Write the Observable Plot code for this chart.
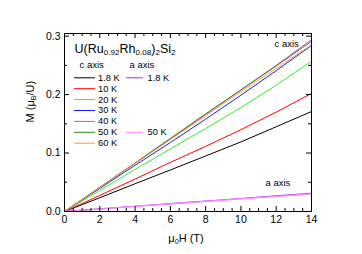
<!DOCTYPE html>
<html><head><meta charset="utf-8">
<script src="https://cdn.jsdelivr.net/npm/d3@7"></script>
<script src="https://cdn.jsdelivr.net/npm/@observablehq/plot@0.6"></script>
<style>html,body{margin:0;padding:0;background:#fff;}#chart{width:362px;height:254px;}</style>
</head><body><div id="chart"></div>
<script>
// ---- data ----
const fieldT = [0, 2, 4, 6, 8, 10, 12, 14];               // μ0H (T)
const cLabels = ["1.8 K", "10 K", "20 K", "30 K", "40 K", "50 K", "60 K"];
const c_1_8K = [0, 0.0235, 0.0475, 0.071, 0.095, 0.119, 0.145, 0.171];
const c_10K  = [0, 0.0275, 0.0555, 0.084, 0.1115, 0.140, 0.170, 0.202];
const c_20K  = [0, 0.036, 0.072, 0.107, 0.142, 0.178, 0.216, 0.257];
const c_30K  = [0, 0.0395, 0.079, 0.118, 0.158, 0.199, 0.241, 0.284];
const c_40K  = [0, 0.041, 0.0825, 0.124, 0.166, 0.208, 0.250, 0.294];
const c_50K  = [0, 0.0415, 0.083, 0.125, 0.167, 0.208, 0.249, 0.291];
const c_60K  = [0, 0.041, 0.082, 0.123, 0.164, 0.205, 0.245, 0.285];
const aLabels = ["1.8 K", "50 K"];
const a_1_8K = [0, 0.0045, 0.009, 0.0134, 0.0178, 0.0222, 0.0266, 0.031];
const a_50K  = [0, 0.0043, 0.0086, 0.0129, 0.0172, 0.0215, 0.0258, 0.030];
const xMajorTicks = [0, 2, 4, 6, 8, 10, 12, 14];
const yMajorTicks = [0, 0.1, 0.2, 0.3];
const yTickLabels = ["0.0", "0.1", "0.2", "0.3"];
const compound = "U(Ru_{0.92}Rh_{0.08})_{2}Si_{2}";

// ---- styles ----
const cColors = ["#000000", "#ff0000", "#33ee33", "#1a1aff", "#e040e0", "#2a8a2a", "#ff9933"];
const aColors = ["#9933ff", "#ff88ff"];
const cSeries = [c_1_8K, c_10K, c_20K, c_30K, c_40K, c_50K, c_60K];
const aSeries = [a_1_8K, a_50K];
const FONT = "'Liberation Sans', Arial, Helvetica, sans-serif";

const W = 362, Hgt = 254;
const mL = 64, mR = 51, mT = 33, mB = 43;
const innerW = W - mL - mR, innerH = Hgt - mT - mB;
const xDom = [0, 14], yDom = [0, 0.3045];
// pixel -> data helpers for annotation placement
const X = p => xDom[0] + (p - mL) / innerW * (xDom[1] - xDom[0]);
const Y = p => yDom[0] + (Hgt - mB - p) / innerH * (yDom[1] - yDom[0]);

const toRows = (vals, name) => vals.map((m, i) => ({H: fieldT[i], M: m, series: name}));

const xMinor = d3.range(0, 14.01, 0.5).filter(v => !xMajorTicks.includes(v));
const yMinor = [0.05, 0.15, 0.25];

const marks = [];
// curves
cSeries.forEach((s, i) => marks.push(Plot.line(toRows(s, "c " + cLabels[i]), {x: "H", y: "M", stroke: cColors[i], strokeWidth: 1})));
aSeries.forEach((s, i) => marks.push(Plot.line(toRows(s, "a " + aLabels[i]), {x: "H", y: "M", stroke: aColors[i], strokeWidth: 1.2})));

// frame + inward ticks on all sides
const maj = 5, mnr = 3;
marks.push(
  Plot.frame({stroke: "#000", strokeWidth: 1}),
  Plot.ruleX(xMajorTicks, {insetTop: innerH - maj}),
  Plot.ruleX(xMinor, {insetTop: innerH - mnr}),
  Plot.ruleX(xMajorTicks, {insetBottom: innerH - maj}),
  Plot.ruleX(xMinor, {insetBottom: innerH - mnr}),
  Plot.ruleY(yMajorTicks, {insetRight: innerW - maj}),
  Plot.ruleY(yMinor, {insetRight: innerW - mnr}),
  Plot.ruleY(yMajorTicks, {insetLeft: innerW - maj}),
  Plot.ruleY(yMinor, {insetLeft: innerW - mnr}),
  Plot.axisX(xMajorTicks, {tickSize: 0, tickPadding: 4, fontSize: 10.5, label: null}),
  Plot.text(yMajorTicks.map((v, i) => ({v, t: yTickLabels[i]})), {y: "v", text: "t", frameAnchor: "left", dx: -4, textAnchor: "end", fontSize: 10.5, lineAnchor: "middle"})
);

// axis titles
marks.push(
  Plot.text([0], {frameAnchor: "bottom", dy: 27, dx: -2, text: () => "μ_{0}H (T)", fontSize: 11, lineAnchor: "middle"}),
  Plot.text([0], {frameAnchor: "left", dx: -34, rotate: -90, text: () => "M (μ_{B}/U)", fontSize: 11, lineAnchor: "middle"})
);

// in-plot annotations & legend
const rowY = i => Y(77.3 + i * 10.9);
marks.push(
  Plot.text([compound], {x: X(74), y: Y(48), text: d => d, textAnchor: "start", fontSize: 12.5, lineAnchor: "middle"}),
  Plot.text(["c axis"], {x: X(79), y: Y(64.7), text: d => d, textAnchor: "start", fontSize: 9.5, lineAnchor: "middle"}),
  Plot.text(["a axis"], {x: X(129), y: Y(64.7), text: d => d, textAnchor: "start", fontSize: 9.5, lineAnchor: "middle"}),
  Plot.ruleY(cLabels.map((l, i) => ({l, i})), {y: d => rowY(d.i), x1: X(74), x2: X(95), stroke: d => cColors[d.i]}),
  Plot.text(cLabels.map((l, i) => ({l, i})), {x: X(97.5), y: d => rowY(d.i), text: "l", textAnchor: "start", fontSize: 9.3, lineAnchor: "middle"}),
  Plot.ruleY(aLabels.map((l, i) => ({l, i, r: i === 0 ? 0 : 5})), {y: d => rowY(d.r), x1: X(126), x2: X(143), stroke: d => aColors[d.i]}),
  Plot.text(aLabels.map((l, i) => ({l, i, r: i === 0 ? 0 : 5})), {x: X(147), y: d => rowY(d.r), text: "l", textAnchor: "start", fontSize: 9.3, lineAnchor: "middle"}),
  Plot.text(["c axis"], {x: X(274), y: Y(43.7), text: d => d, textAnchor: "start", fontSize: 9.5, lineAnchor: "middle"}),
  Plot.text(["a axis"], {x: X(265), y: Y(182.7), text: d => d, textAnchor: "start", fontSize: 9.5, lineAnchor: "middle"})
);

const chart = Plot.plot({
  width: W, height: Hgt,
  marginLeft: mL, marginRight: mR, marginTop: mT, marginBottom: mB,
  x: {domain: xDom, axis: null},
  y: {domain: yDom, axis: null},
  style: {fontFamily: FONT, fontSize: "10px", background: "#fff", color: "#000", overflow: "visible"},
  marks
});

// subscripts: "_{...}" -> tspan with baseline-shift
chart.querySelectorAll("text").forEach(t => {
  const s = t.textContent;
  if (!s.includes("_{")) return;
  t.textContent = "";
  const re = /_\{([^}]*)\}|([^_]+)/g;
  let m;
  while ((m = re.exec(s))) {
    const ts = document.createElementNS("http://www.w3.org/2000/svg", "tspan");
    if (m[1] !== undefined) {
      ts.textContent = m[1];
      ts.setAttribute("baseline-shift", "-30%");
      ts.setAttribute("font-size", "65%");
    } else ts.textContent = m[2];
    t.appendChild(ts);
  }
});
document.getElementById("chart").appendChild(chart);
</script></body></html>
